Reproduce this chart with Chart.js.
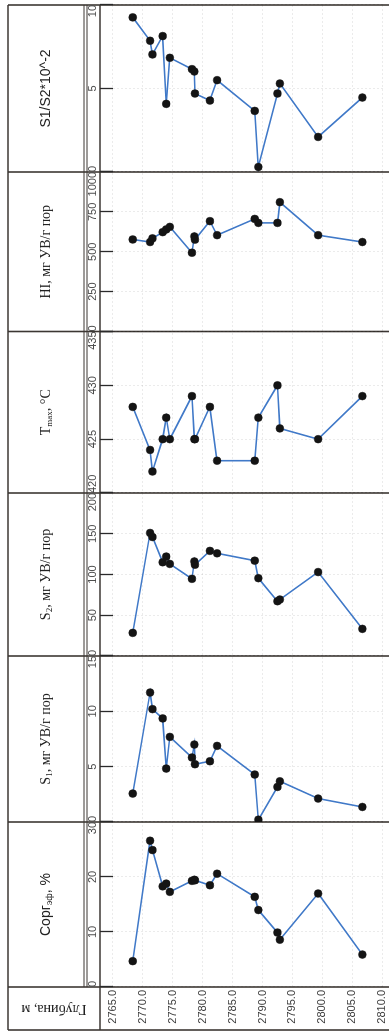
<!DOCTYPE html>
<html>
<head>
<meta charset="utf-8">
<script src="https://cdn.jsdelivr.net/npm/chart.js@4/dist/chart.umd.min.js"></script>
<style>
  html, body { margin: 0; padding: 0; background: #fff; overflow: hidden; }
  /* the log is drawn upright (depth going down) and then turned a quarter to the left */
  #wrap { position: absolute; left: 0; top: 0; width: 1034px; height: 389px;
          transform-origin: 0 0; transform: translate(0, 1034px) rotate(-90deg); }
</style>
</head>
<body>
<div id="wrap"><canvas id="logChart" width="1034" height="389"></canvas></div>
<script>
// sample depths, m
const depth = [2768.3, 2771.2, 2771.6, 2773.3, 2773.9, 2774.5, 2778.2, 2778.6, 2778.7,
               2781.2, 2782.4, 2788.7, 2789.3, 2792.5, 2792.9, 2799.3, 2806.7];

// pyrolysis values for each sample
const corg = [4.7, 26.6, 24.9, 18.3, 18.8, 17.3, 19.3, 19.5, 19.4, 18.5, 20.6, 16.4, 14.0, 9.9, 8.6, 17.0, 5.9];
const s1   = [2.57, 11.7, 10.2, 9.36, 4.83, 7.69, 5.83, 7.0, 5.22, 5.49, 6.88, 4.29, 0.21, 3.17, 3.68, 2.12, 1.36];
const s2   = [28.4, 151, 146, 115, 122, 113, 94.7, 116, 112, 129, 126, 117, 95.5, 67.2, 69.3, 103, 33.3];
const tmax = [428, 424, 422, 425, 427, 425, 429, 425, 425, 428, 423, 423, 427, 430, 426, 425, 429];
const hi   = [577, 561, 584, 623, 640, 656, 494, 596, 576, 692, 604, 706, 681, 681, 811, 604, 561];
const ratio = [9.26, 7.86, 7.04, 8.14, 4.08, 6.84, 6.16, 6.02, 4.70, 4.28, 5.50, 3.66, 0.30, 4.70, 5.30, 2.10, 4.46];

// tick labels
const depthTicks = [2765, 2770, 2775, 2780, 2785, 2790, 2795, 2800, 2805, 2810];
const corgTicks  = [0, 10, 20, 30];
const s1Ticks    = [0, 5, 10, 15];
const s2Ticks    = [0, 50, 100, 150, 200];
const tmaxTicks  = [420, 425, 430, 435];
const hiTicks    = [0, 250, 500, 750, 1000];
const ratioTicks = [0, 5, 10];

const serif = 'Liberation Serif';
const sans = 'Liberation Sans';

// one track per column, left to right (second item 1 = subscript)
const tracks = [
  { id: 'corg',  values: corg,  ticks: corgTicks,  weight: 165,   family: sans,
    title: [['Сорг'], ['эф', 1], [', %']] },
  { id: 's1',    values: s1,    ticks: s1Ticks,    weight: 166,   family: serif,
    title: [['S'], ['1', 1], [', мг УВ/г пор']] },
  { id: 's2',    values: s2,    ticks: s2Ticks,    weight: 163,   family: serif,
    title: [['S'], ['2', 1], [', мг УВ/г пор']] },
  { id: 'tmax',  values: tmax,  ticks: tmaxTicks,  weight: 161.5, family: serif,
    title: [['T'], ['max', 1], [', °C']] },
  { id: 'hi',    values: hi,    ticks: hiTicks,    weight: 159.5, family: serif,
    title: [['HI, мг УВ/г пор']] },
  { id: 'ratio', values: ratio, ticks: ratioTicks, weight: 167,   family: sans,
    title: [['S1/S2*10^-2']] }
];

const gridColor = 'rgba(0,0,0,0.08)';
const lineColor = '#3c3733';

// stacked top axes are laid out last-first, so add them in reverse
const scales = {};
tracks.slice().reverse().forEach(t => {
  scales[t.id] = {
    type: 'linear',
    position: 'top',
    stack: 'tracks',
    stackWeight: t.weight,
    min: t.ticks[0],
    max: t.ticks[t.ticks.length - 1],
    afterBuildTicks: s => { s.ticks = t.ticks.map(v => ({ value: v })); },
    afterFit: s => { s.height = 113; s.paddingLeft = 0; s.paddingRight = 0; },
    grid: { color: gridColor, tickColor: '#2a2a2a', tickLength: 13, tickWidth: 1.3 },
    border: { display: false, dash: [2, 2] },
    ticks: {
      align: 'inner',
      padding: 0,
      minRotation: 0,
      maxRotation: 0,
      autoSkip: false,
      color: '#4a4a4a',
      font: { family: sans, size: 11 },
      callback: v => String(v)
    }
  };
});

scales.y = {
  type: 'linear',
  position: 'left',
  reverse: true,
  min: 2765,
  max: 2810.4,
  afterBuildTicks: s => { s.ticks = depthTicks.map(v => ({ value: v })); },
  afterFit: s => { s.width = 43; s.paddingTop = 0; s.paddingBottom = 0; },
  grid: { color: gridColor, drawTicks: false },
  border: { display: false, dash: [2, 2] },
  ticks: {
    padding: 3,
    autoSkip: false,
    color: '#3a3a3a',
    font: { family: sans, size: 11 },
    callback: v => v.toFixed(1)
  }
};

function drawRich(ctx, parts, cx, cy, family, size) {
  const fontFor = p => (p[1] ? Math.round(size * 0.65) : size) + 'px "' + family + '"';
  let w = 0;
  parts.forEach(p => { ctx.font = fontFor(p); w += ctx.measureText(p[0]).width; });
  let x = cx - w / 2;
  parts.forEach(p => {
    ctx.font = fontFor(p);
    ctx.fillText(p[0], x, cy + (p[1] ? size * 0.28 : 0));
    x += ctx.measureText(p[0]).width;
  });
}

const logTable = {
  id: 'logTable',
  beforeDraw(chart) {
    const { ctx, chartArea } = chart;
    const x0 = chart.scales.y.left;
    const x1 = chartArea.right;
    const bottom = chart.height;
    ctx.save();
    ctx.strokeStyle = lineColor;
    const hLine = (y, a, b) => { ctx.beginPath(); ctx.moveTo(a, y); ctx.lineTo(b, y); ctx.stroke(); };
    const vLine = x => { ctx.beginPath(); ctx.moveTo(x, 8); ctx.lineTo(x, bottom); ctx.stroke(); };
    ctx.lineWidth = 1.6;
    hLine(8, x0, x1);
    hLine(100, x0, x1);
    vLine(x0);
    tracks.forEach(t => vLine(chart.scales[t.id].left));
    vLine(x1);
    ctx.lineWidth = 1;
    hLine(84, chartArea.left, x1);
    hLine(87, chartArea.left, x1);
    ctx.restore();
  },
  afterDraw(chart) {
    const ctx = chart.ctx;
    ctx.save();
    ctx.fillStyle = '#222';
    ctx.textBaseline = 'middle';
    tracks.forEach(t => {
      const s = chart.scales[t.id];
      drawRich(ctx, t.title, (s.left + s.right) / 2, 46, t.family, 14);
    });
    // depth title, turned like a left axis title
    const ya = chart.scales.y;
    ctx.translate((ya.left + ya.right) / 2, 54);
    ctx.rotate(-Math.PI / 2);
    ctx.textAlign = 'center';
    ctx.font = '14px "' + serif + '"';
    ctx.fillText('Глубина, м', 0, 0);
    ctx.restore();
  }
};

new Chart(document.getElementById('logChart'), {
  type: 'scatter',
  data: {
    datasets: tracks.map(t => ({
      label: t.id,
      data: depth.map((d, i) => ({ x: t.values[i], y: d })),
      xAxisID: t.id,
      yAxisID: 'y',
      showLine: true,
      borderColor: '#4079c8',
      borderWidth: 1.6,
      pointRadius: 3.9,
      pointBackgroundColor: '#141414',
      pointBorderColor: '#141414',
      pointBorderWidth: 0.5
    }))
  },
  options: {
    responsive: false,
    animation: false,
    devicePixelRatio: 1,
    layout: { padding: { left: 4, right: 5, top: 0, bottom: 0 } },
    scales: scales,
    plugins: {
      legend: { display: false },
      tooltip: { enabled: false }
    }
  },
  plugins: [logTable]
});
</script>
</body>
</html>
